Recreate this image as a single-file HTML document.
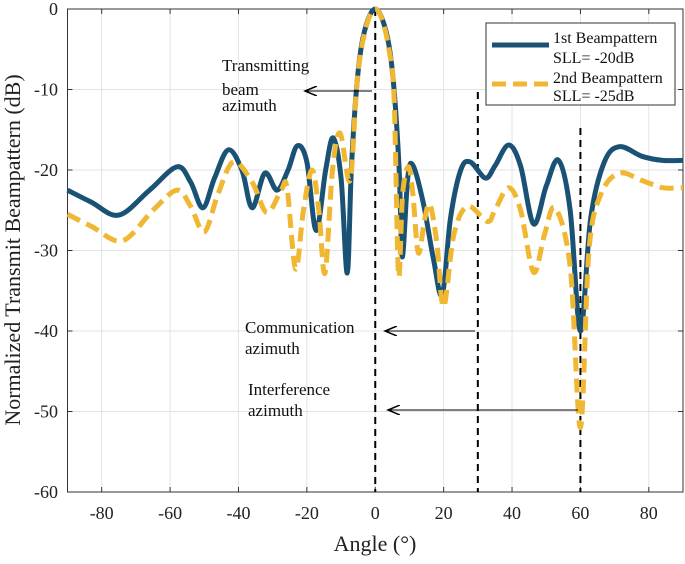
<!DOCTYPE html>
<html><head><meta charset="utf-8"><style>
body{margin:0;background:#fff}
svg{font-family:"Liberation Serif",serif}
</style></head><body>
<svg id="c" width="685" height="559" viewBox="0 0 685 559"></svg>
<script>
const xTicks=[-80,-60,-40,-20,0,20,40,60,80];
const yTicks=[0,-10,-20,-30,-40,-50,-60];
const blueAng=[-90,-83,-75,-66,-58,-54,-50.4,-47,-43,-39,-36,-32.3,-28.7,-25.5,-22.8,-20,-17.3,-14.5,-12.3,-10,-8.2,-7,-5.5,-4,-2,0,2,4,5.5,7,7.9,9.5,11,14,17,19.6,22,25,27.8,32.2,35,39,42.5,46.3,50,53.6,57,60,63,67,71.5,78,84,90];
const blueDb=[-22.5,-24,-25.6,-22.5,-19.6,-21.5,-24.7,-21,-17.5,-20,-24.7,-20.4,-22.5,-20,-17,-19,-27.5,-20,-16,-21,-32.8,-20,-10,-4.5,-1.2,0,-1.2,-4.5,-10,-20,-30.8,-21,-19.4,-24,-31,-35.5,-26,-20,-19,-21,-19.5,-16.9,-19.5,-26.7,-22,-18.8,-25,-40,-26,-19,-17.1,-18.3,-18.8,-18.8];
const yelAng=[-90,-83,-74,-65,-58,-54,-50,-46,-41.5,-36,-31.7,-27.5,-25.8,-23.3,-21,-18.5,-16.5,-14.7,-12.5,-10.3,-7.4,-5.5,-4,-2,0,2,4,5.5,6.8,8,9.7,11,12.6,14.5,16,18,20,23,27,32.8,35,39,42.5,46.3,49.5,52.6,57,60,62.5,66,71.3,78,84,90];
const yelDb=[-25.5,-27,-28.8,-25,-22.5,-24.5,-27.7,-23,-19,-21.5,-25.3,-22.5,-22.2,-32.3,-25,-20,-25,-32.8,-20,-15.4,-21.3,-10,-4.8,-1.3,0,-1.3,-5,-11,-33,-23,-19.6,-23,-30.3,-26,-24.3,-29,-37,-28,-24.5,-26.4,-25,-22.2,-25,-32.7,-28,-24.7,-32,-52,-30,-23,-20.4,-21.3,-22.2,-22.2];
const L=67.5,R=683,T=9,B=492;
const sx=a=>L+(a+90)/180*(R-L), sy=d=>T+(-d)/60*(B-T);
const svg=document.getElementById('c');const NS='http://www.w3.org/2000/svg';
function mk(t,a,txt){const e=document.createElementNS(NS,t);for(const k in a)e.setAttribute(k,a[k]);if(txt!=null)e.textContent=txt;svg.appendChild(e);return e;}
function path(xs,ys){const p=xs.map((a,i)=>[sx(a),sy(ys[i])]);let d='M'+p[0][0]+','+p[0][1];
for(let i=0;i<p.length-1;i++){const p0=p[Math.max(0,i-1)],p1=p[i],p2=p[i+1],p3=p[Math.min(p.length-1,i+2)];
d+=' C'+(p1[0]+(p2[0]-p0[0])/6)+','+(p1[1]+(p2[1]-p0[1])/6)+' '+(p2[0]-(p3[0]-p1[0])/6)+','+(p2[1]-(p3[1]-p1[1])/6)+' '+p2[0]+','+p2[1];}return d;}
let e;
xTicks.forEach(t=>{e=mk('line',{x1:sx(t),x2:sx(t),y1:T,y2:B,stroke:'#e3e3e3','stroke-width':1});
e=mk('text',{x:sx(t),y:519,'text-anchor':'middle','font-size':18,fill:'#222'},t);
mk('line',{x1:sx(t),x2:sx(t),y1:B,y2:B-5,stroke:'#333'});mk('line',{x1:sx(t),x2:sx(t),y1:T,y2:T+5,stroke:'#333'});});
yTicks.forEach(t=>{e=mk('line',{x1:L,x2:R,y1:sy(t),y2:sy(t),stroke:'#e3e3e3','stroke-width':1});
e=mk('text',{x:58,y:sy(t)+6,'text-anchor':'end','font-size':18,fill:'#222'},t);
mk('line',{x1:L,x2:L+5,y1:sy(t),y2:sy(t),stroke:'#333'});mk('line',{x1:R,x2:R-5,y1:sy(t),y2:sy(t),stroke:'#333'});});
e=mk('rect',{x:L,y:T,width:R-L,height:B-T,fill:'none',stroke:'#333','stroke-width':1});
[[0,T],[30,92],[60,128]].forEach(v=>{e=mk('line',{x1:sx(v[0]),x2:sx(v[0]),y1:v[1],y2:B,stroke:'#000','stroke-width':2,'stroke-dasharray':'7,5'});});
e=mk('path',{d:path(blueAng,blueDb),fill:'none',stroke:'#1a5276','stroke-width':5,'stroke-linejoin':'round'});
e=mk('path',{d:path(yelAng,yelDb),fill:'none',stroke:'#f0b732','stroke-width':5,'stroke-dasharray':'14,7'});
mk('defs',{}).innerHTML='<marker id="ar" markerWidth="14" markerHeight="10" refX="12" refY="5" orient="auto" markerUnits="userSpaceOnUse"><path d="M0,0 L12,5 L0,10" fill="none" stroke="#000" stroke-width="1.5"/></marker>';
[[372,305,91],[475,385,331],[578,388,410]].forEach(a=>{e=mk('line',{x1:a[0],x2:a[1],y1:a[2],y2:a[2],stroke:'#000','stroke-width':1,'marker-end':'url(#ar)'});});
[['Transmitting',222,71],['beam',222,95],['azimuth',222,111],['Communication',245,333],['azimuth',245,354],['Interference',248,395],['azimuth',248,416]].forEach(t=>{e=mk('text',{x:t[1],y:t[2],'font-size':17,fill:'#111'},t[0]);});
e=mk('rect',{x:486,y:23,width:189,height:82,fill:'#fff',stroke:'#333'});
e=mk('line',{x1:492,x2:549,y1:45,y2:45,stroke:'#1a5276','stroke-width':5});
e=mk('line',{x1:492,x2:549,y1:84,y2:84,stroke:'#f0b732','stroke-width':5,'stroke-dasharray':'14,7'});
[['1st Beampattern',43],['SLL= -20dB',63],['2nd Beampattern',83],['SLL= -25dB',101]].forEach(t=>{e=mk('text',{x:553,y:t[1],'font-size':16,fill:'#111'},t[0]);});
e=mk('text',{x:375,y:551,'text-anchor':'middle','font-size':22,fill:'#222'},'Angle (°)');
e=mk('text',{x:0,y:0,transform:'translate(20,250) rotate(-90)','text-anchor':'middle','font-size':22,fill:'#222'},'Normalized Transmit Beampattern (dB)');
</script>
</body></html>
